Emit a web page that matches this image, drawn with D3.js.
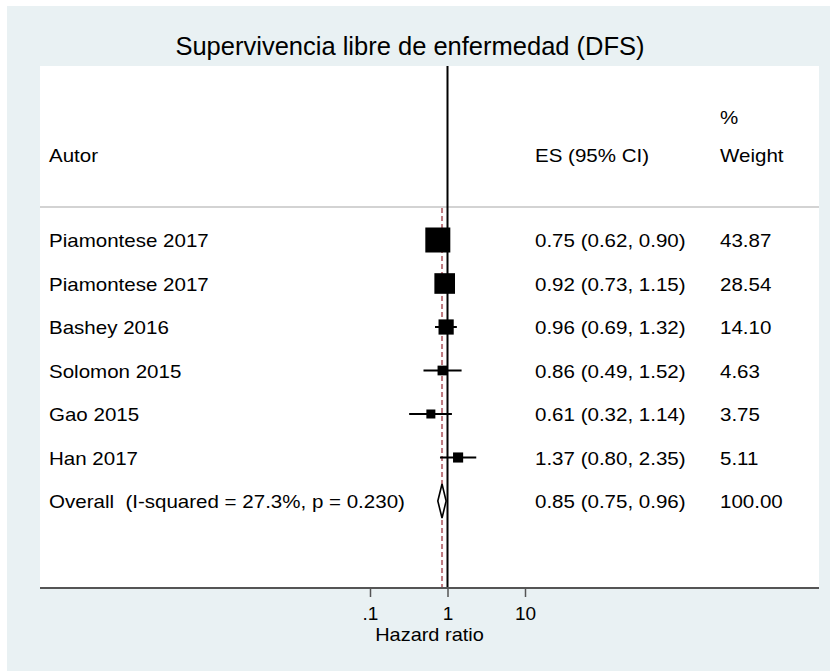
<!DOCTYPE html>
<html>
<head>
<meta charset="utf-8">
<script src="https://cdn.jsdelivr.net/npm/d3@7"></script>
<style>
  html, body { margin: 0; padding: 0; background: #ffffff; }
  svg { display: block; }
  text { font-family: "Liberation Sans", Arial, Helvetica, sans-serif; fill: #000; white-space: pre; }
</style>
</head>
<body>
<svg id="chart" width="830" height="671"></svg>
<script>
// Study-level estimates (hazard ratios with 95% CI) and random-effects weights
const studies = ["Piamontese 2017", "Piamontese 2017", "Bashey 2016", "Solomon 2015", "Gao 2015", "Han 2017"];
const es      = [0.75, 0.92, 0.96, 0.86, 0.61, 1.37];
const ciLow   = [0.62, 0.73, 0.69, 0.49, 0.32, 0.80];
const ciHigh  = [0.90, 1.15, 1.32, 1.52, 1.14, 2.35];
const weights = [43.87, 28.54, 14.10, 4.63, 3.75, 5.11];

// Pooled estimate
const overallLabel = "Overall  (I-squared = 27.3%, p = 0.230)";
const overallEs = 0.85, overallLow = 0.75, overallHigh = 0.96, overallWeight = 100.00;

// Axis
const xTickValues = [0.1, 1, 10];
const xTickLabels = [".1", "1", "10"];

const svg = d3.select("#chart");
const W = 830, H = 671;

// Graph and plot regions
const plot = { left: 40, right: 819, top: 66, bottom: 588 };
svg.append("rect").attr("x", 7).attr("y", 6).attr("width", W - 7).attr("height", H - 6).attr("fill", "#e9f1f3");
svg.append("rect").attr("x", plot.left).attr("y", plot.top)
  .attr("width", plot.right - plot.left).attr("height", plot.bottom - plot.top).attr("fill", "#ffffff");

// Scales
const x = d3.scaleLog().domain([0.1, 10]).range([370, 525]);
const rowY = d3.scaleLinear().domain([0, 6]).range([240, 501]);
const boxSide = d3.scaleLinear().domain([Math.sqrt(3.75), Math.sqrt(43.87)]).range([9, 25]);

const cols = { label: 49, es: 535, weight: 720 };
const fs = 19;

// widen glyphs slightly to get the broader letterforms
function stretch(sel, k) {
  sel.each(function () {
    const len = this.getComputedTextLength();
    d3.select(this).attr("textLength", len * k).attr("lengthAdjust", "spacingAndGlyphs");
  });
  return sel;
}

// Title
svg.append("text").attr("x", 410).attr("y", 55).attr("text-anchor", "middle")
  .style("font-size", "25.5px").text("Supervivencia libre de enfermedad (DFS)");

// Header
const header = svg.append("g").style("font-size", fs + "px");
stretch(header.append("text").attr("x", cols.weight).attr("y", 124).text("%"), 1.08);
stretch(header.append("text").attr("x", cols.label).attr("y", 162).text("Autor"), 1.08);
stretch(header.append("text").attr("x", cols.es).attr("y", 162).text("ES (95% CI)"), 1.08);
stretch(header.append("text").attr("x", cols.weight).attr("y", 162).text("Weight"), 1.08);

// Separator under the header
svg.append("line").attr("x1", plot.left).attr("x2", plot.right).attr("y1", 207).attr("y2", 207)
  .attr("stroke", "#c4c4c4").attr("stroke-width", 1.5);

// Reference line at HR = 1
svg.append("line").attr("x1", x(1)).attr("x2", x(1)).attr("y1", plot.top).attr("y2", plot.bottom)
  .attr("stroke", "#000").attr("stroke-width", 2);

// Dashed line at the pooled estimate
svg.append("line").attr("x1", x(overallEs)).attr("x2", x(overallEs)).attr("y1", 208).attr("y2", plot.bottom)
  .attr("stroke", "#bf7a80").attr("stroke-width", 2).attr("stroke-dasharray", "5,3");

// Study rows
const rows = svg.append("g");
studies.forEach((s, i) => {
  const y = rowY(i);
  rows.append("line").attr("x1", x(ciLow[i])).attr("x2", x(ciHigh[i])).attr("y1", y).attr("y2", y)
    .attr("stroke", "#000").attr("stroke-width", 2);
  const side = boxSide(Math.sqrt(weights[i]));
  rows.append("rect").attr("x", x(es[i]) - side / 2).attr("y", y - side / 2)
    .attr("width", side).attr("height", side).attr("fill", "#000");
  const t = rows.append("g").style("font-size", fs + "px");
  stretch(t.append("text").attr("x", cols.label).attr("y", y + 7).text(s), 1.08);
  stretch(t.append("text").attr("x", cols.es).attr("y", y + 7)
    .text(`${es[i].toFixed(2)} (${ciLow[i].toFixed(2)}, ${ciHigh[i].toFixed(2)})`), 1.08);
  stretch(t.append("text").attr("x", cols.weight).attr("y", y + 7).text(weights[i].toFixed(2)), 1.08);
});

// Pooled diamond
const yo = rowY(6);
const dh = 17;
svg.append("path")
  .attr("d", `M${x(overallLow)},${yo} L${x(overallEs)},${yo - dh} L${x(overallHigh)},${yo} L${x(overallEs)},${yo + dh} Z`)
  .attr("fill", "#fff").attr("stroke", "#000").attr("stroke-width", 1.6);
const ot = svg.append("g").style("font-size", fs + "px");
stretch(ot.append("text").attr("x", cols.label).attr("y", yo + 7).text(overallLabel), 1.08);
stretch(ot.append("text").attr("x", cols.es).attr("y", yo + 7)
  .text(`${overallEs.toFixed(2)} (${overallLow.toFixed(2)}, ${overallHigh.toFixed(2)})`), 1.08);
stretch(ot.append("text").attr("x", cols.weight).attr("y", yo + 7).text(overallWeight.toFixed(2)), 1.08);

// X axis
const axis = d3.axisBottom(x).tickValues(xTickValues)
  .tickFormat((d, i) => xTickLabels[i]).tickSize(9).tickPadding(6);
const ag = svg.append("g").attr("transform", `translate(0,${plot.bottom})`).call(axis);
ag.select(".domain").remove();
ag.selectAll(".tick line").attr("stroke", "#555").attr("stroke-width", 1.5);
ag.selectAll(".tick text").style("font-size", fs + "px").style("font-family", "Liberation Sans, Arial, sans-serif")
  .attr("fill", "#000").attr("dy", "0.9em");
svg.append("line").attr("x1", plot.left).attr("x2", plot.right).attr("y1", plot.bottom).attr("y2", plot.bottom)
  .attr("stroke", "#555").attr("stroke-width", 2);

// Axis title
stretch(svg.append("text").attr("x", (plot.left + plot.right) / 2).attr("y", 641).attr("text-anchor", "middle")
  .style("font-size", fs + "px").text("Hazard ratio"), 1.05);
</script>
</body>
</html>
